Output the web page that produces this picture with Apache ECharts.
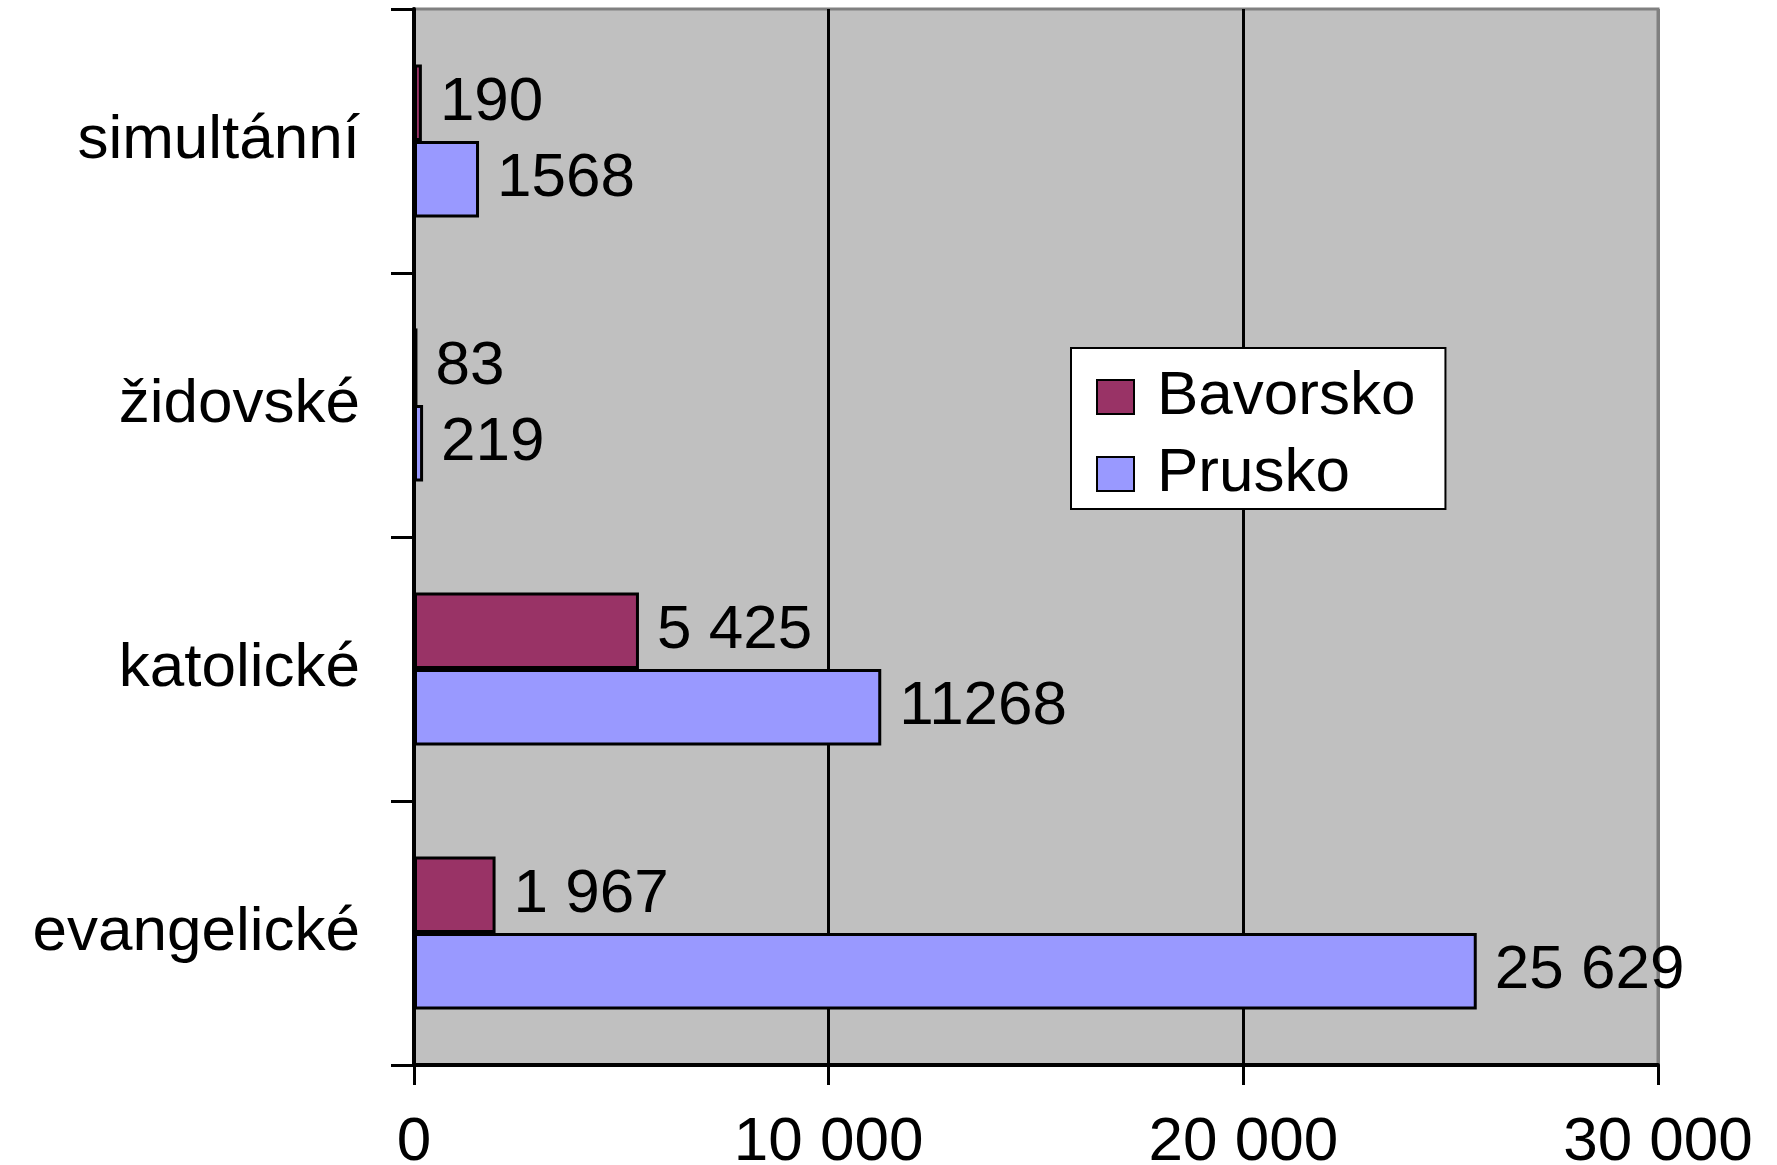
<!DOCTYPE html>
<html>
<head>
<meta charset="utf-8">
<script src="https://cdn.jsdelivr.net/npm/echarts@6/dist/echarts.min.js"></script>
<style>
    html, body { margin: 0; padding: 0; background: #fff; }
    #chart { width: 1777px; height: 1165px; }
</style>
</head>
<body>
<div id="chart"></div>
<script>
    // data
    const categories = ['simultánní', 'židovské', 'katolické', 'evangelické'];
    const seriesNames = ['Bavorsko', 'Prusko'];
    const bavorsko = [190, 83, 5425, 1967];
    const prusko = [1568, 219, 11268, 25629];
    // labels as written in the original (formatting is not consistent)
    const bavorskoLabels = ['190', '83', '5 425', '1 967'];
    const pruskoLabels = ['1568', '219', '11268', '25 629'];

    const fontFamily = '"Liberation Sans", Arial, sans-serif';
    const fontSize = 62;

    const myChart = echarts.init(document.getElementById('chart'));

    const option = {
        backgroundColor: '#fff',
        animation: false,
        textStyle: { fontFamily: fontFamily },
        grid: {
            left: 414,
            right: 119,
            top: 9,
            bottom: 100,
            outerBoundsMode: 'none',
            show: true,
            backgroundColor: '#c0c0c0',
            borderColor: '#808080',
            borderWidth: 3
        },
        legend: {
            orient: 'vertical',
            left: 1071,
            top: 348,
            data: seriesNames,
            icon: 'rect',
            itemWidth: 37,
            itemHeight: 34,
            itemGap: 15,
            padding: [18, 30, 4, 25],
            backgroundColor: '#fff',
            borderColor: '#000',
            borderWidth: 2,
            textStyle: {
                color: '#000',
                fontSize: fontSize,
                fontFamily: fontFamily,
                padding: [0, 0, 0, 18]
            }
        },
        xAxis: {
            type: 'value',
            min: 0,
            max: 30000,
            interval: 10000,
            axisLine: { show: true, lineStyle: { color: '#000', width: 4 } },
            axisTick: { show: true, length: 20, lineStyle: { color: '#000', width: 3 } },
            axisLabel: {
                color: '#000',
                fontSize: fontSize,
                fontFamily: fontFamily,
                margin: 47,
                formatter: (v) => String(v).replace(/\B(?=(\d{3})+(?!\d))/g, ' ')
            },
            // last line is the gray right border
            splitLine: { show: true, lineStyle: { color: ['#000', '#000', '#000', '#808080'], width: 3 } }
        },
        yAxis: {
            type: 'category',
            inverse: true,
            data: categories,
            axisLine: { show: true, lineStyle: { color: '#000', width: 4 } },
            axisTick: { show: true, length: 23, lineStyle: { color: '#000', width: 3 } },
            axisLabel: {
                color: '#000',
                fontSize: fontSize,
                fontFamily: fontFamily,
                margin: 54,
                padding: [8, 0, 0, 0]
            }
        },
        series: [
            {
                name: seriesNames[0],
                type: 'bar',
                data: bavorsko,
                barGap: '0%',
                barCategoryGap: '42%',
                itemStyle: { color: '#993366', borderColor: '#000', borderWidth: 3 },
                label: {
                    show: true,
                    position: 'right',
                    distance: 18,
                    color: '#000',
                    fontSize: fontSize,
                    fontFamily: fontFamily,
                    formatter: (p) => bavorskoLabels[p.dataIndex]
                }
            },
            {
                name: seriesNames[1],
                type: 'bar',
                data: prusko,
                barGap: '0%',
                barCategoryGap: '42%',
                itemStyle: { color: '#9999ff', borderColor: '#000', borderWidth: 3 },
                label: {
                    show: true,
                    position: 'right',
                    distance: 18,
                    color: '#000',
                    fontSize: fontSize,
                    fontFamily: fontFamily,
                    formatter: (p) => pruskoLabels[p.dataIndex]
                }
            }
        ]
    };

    myChart.setOption(option);
    window.addEventListener('resize', function () {
        myChart.resize();
    });
</script>
</body>
</html>
